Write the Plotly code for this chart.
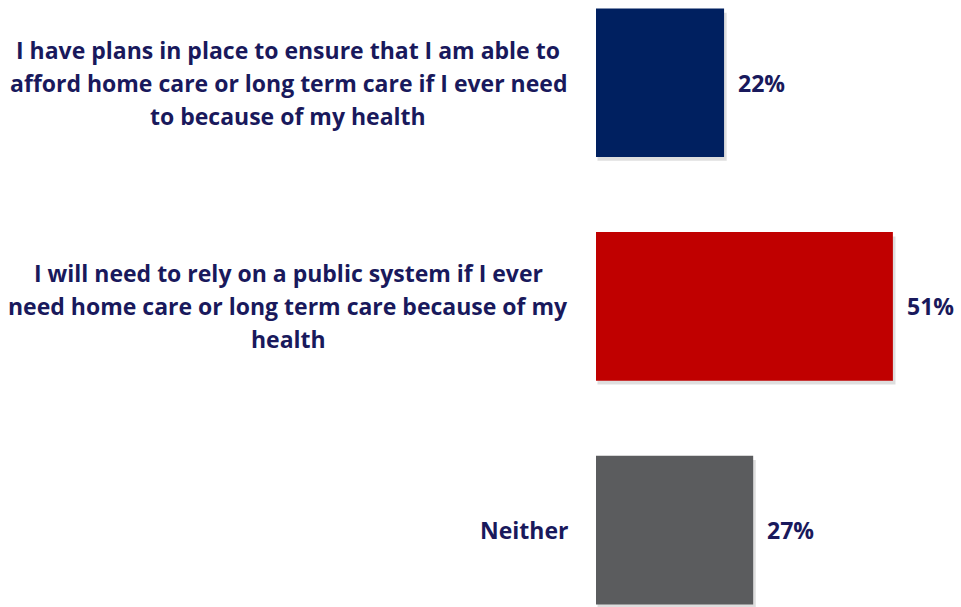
import plotly.graph_objects as go

# Survey responses on paying for home care / long term care
categories = [
    "I have plans in place to ensure that I am able to<br>afford home care or long term care if I ever need<br>to because of my health",
    "I will need to rely on a public system if I ever<br>need home care or long term care because of my<br>health",
    "Neither",
]
values = [22, 51, 27]
bar_colors = ["#002060", "#C00000", "#5B5C5E"]

TEXT_COLOR = "#19195C"
FONT = "Open Sans, sans-serif"
LABEL_SIZE = 23
LINE_GAP = 33

fig = go.Figure(
    go.Bar(
        x=values,
        y=categories,
        orientation="h",
        width=0.665,
        marker=dict(color=bar_colors, line=dict(width=0)),
        hoverinfo="skip",
    )
)

# Soft drop shadow under each bar
shapes = []
for idx, v in enumerate(values):
    shapes.append(dict(
        type="rect", layer="below",
        xref="x", x0=0.25, x1=v + 0.45,
        yref="y", ysizemode="pixel", yanchor=idx, y0=-78, y1=70,
        fillcolor="rgba(0,0,0,0.13)", line=dict(width=0),
    ))

annotations = []
# Category labels: lines centred in a block that sits left of the bars
for cat in categories:
    lines = cat.split("<br>")
    n = len(lines)
    for i, line in enumerate(lines):
        if n == 1:
            anchor, shift = "right", -26
        else:
            anchor, shift = "center", -308
        annotations.append(dict(
            x=0, y=cat, xref="x", yref="y",
            text=line, showarrow=False,
            xanchor=anchor, yanchor="middle",
            xshift=shift, yshift=((n - 1) / 2 - i) * LINE_GAP,
            font=dict(family=FONT, size=LABEL_SIZE, color=TEXT_COLOR, weight="bold"),
        ))
# Value labels just past the end of each bar
for cat, v in zip(categories, values):
    annotations.append(dict(
        x=v, y=cat, xref="x", yref="y",
        text=f"{v}%", showarrow=False,
        xanchor="left", yanchor="middle", xshift=12,
        font=dict(family=FONT, size=LABEL_SIZE, color=TEXT_COLOR, weight="bold"),
    ))

fig.update_layout(
    width=961, height=607,
    margin=dict(l=596, r=0, t=0, b=0),
    paper_bgcolor="white", plot_bgcolor="white",
    showlegend=False,
    xaxis=dict(range=[0, 62.7], visible=False, fixedrange=True),
    yaxis=dict(range=[2.344, -0.37], visible=False, fixedrange=True),
    shapes=shapes,
    annotations=annotations,
)

fig.write_html("out.html")
